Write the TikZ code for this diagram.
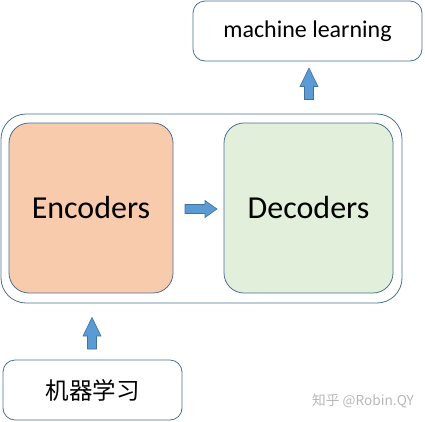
\documentclass[tikz,border=0pt]{standalone}
\usepackage{fontspec}
\setmainfont{Carlito}
\newfontfamily\cjk{Noto Sans CJK SC}
\usetikzlibrary{calc}
\definecolor{edge}{HTML}{4A7194}
\definecolor{arrowfill}{HTML}{5B9BD5}
\definecolor{arrowedge}{HTML}{41719C}
\definecolor{encfill}{HTML}{F8CBAD}
\definecolor{decfill}{HTML}{E2EFDA}
\tikzset{
  box/.style={draw=edge, line width=0.8pt, rounded corners=12pt, fill=white, inner sep=0pt},
  bigbox/.style={draw=edge, line width=0.8pt, rounded corners=20pt, inner sep=0pt, minimum width=164pt, minimum height=170pt, font=\fontsize{32}{34}\selectfont},
  blockarrow/.style={draw=arrowedge, fill=arrowfill, line width=0.6pt, line join=miter},
}
\begin{document}
\begin{tikzpicture}[x=1pt,y=-1pt]
\useasboundingbox (0,0) rectangle (425,421);
\node[draw=edge, line width=0.8pt, rounded corners=25pt, minimum width=401pt, minimum height=189pt, inner sep=0pt] (outer) at (201.5,208.5) {};
\node[bigbox, fill=encfill] (enc) at (91,208) {Encoders};
\node[bigbox, fill=decfill, minimum width=169pt] (dec) at (308.5,208) {Decoders};
\node[box, minimum width=229pt, minimum height=60pt, font=\fontsize{24}{26}\selectfont] (ml) at (307.5,31) {machine learning};
\node[box, minimum width=179pt, minimum height=60pt, font=\cjk\fontsize{23.5}{26}\selectfont] (jq) at (92.5,390) {机器学习};
% block arrows
\coordinate (c1) at ($(enc.east)!0.5!(dec.west)+(2.5,1)$);
\coordinate (c2) at ($(ml.south)!0.5!(ml.south |- outer.north)+(1.5,-4)$);
\coordinate (c3) at ($(outer.south -| jq.north)!0.5!(jq.north)+(-0.5,1.5)$);
\draw[blockarrow] ($(c1)+(-16,-4.5)$) -- ($(c1)+(4,-4.5)$) -- ($(c1)+(4,-8.5)$) -- ($(c1)+(16,0)$) -- ($(c1)+(4,8.5)$) -- ($(c1)+(4,4.5)$) -- ($(c1)+(-16,4.5)$) -- cycle;
\foreach \c in {c2,c3}{
  \draw[blockarrow] ($(\c)+(-4.5,16)$) -- ($(\c)+(-4.5,3)$) -- ($(\c)+(-9,3)$) -- ($(\c)+(0,-15.5)$) -- ($(\c)+(9,3)$) -- ($(\c)+(4.5,3)$) -- ($(\c)+(4.5,16)$) -- cycle;
}
\node[text=black!28, font=\cjk\fontsize{13.7}{15}\selectfont] (wm) at (363,401) {知乎 @Robin.QY};
\end{tikzpicture}
\end{document}
